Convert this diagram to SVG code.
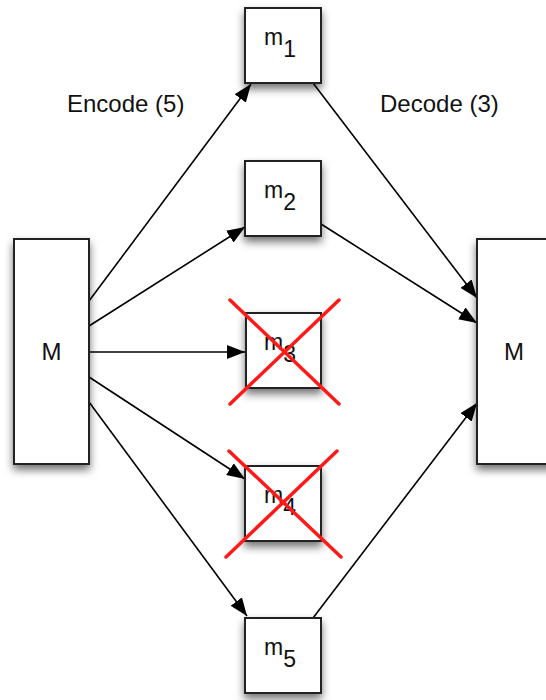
<svg xmlns="http://www.w3.org/2000/svg" width="546" height="700" viewBox="0 0 546 700">
<defs>
<filter id="sh" x="-30%" y="-30%" width="160%" height="170%">
<feDropShadow dx="0" dy="5" stdDeviation="4" flood-color="#000" flood-opacity="0.55"/>
</filter>
<marker id="ah" markerUnits="userSpaceOnUse" markerWidth="20" markerHeight="14" refX="18" refY="7" orient="auto">
<path d="M0,0 L18,7 L0,14 Z" fill="#000"/>
</marker>
<style>
.box{fill:#fff;stroke:#222;stroke-width:2;filter:url(#sh)}
.lbl{font-family:"Liberation Sans",Arial,sans-serif;font-size:24px;fill:#111}
.m{font-size:23px}
.sub{font-size:23px}
.edge{stroke:#000;stroke-width:1.6;fill:none;marker-end:url(#ah)}
.x{stroke:#ff1a1a;stroke-width:3.5;stroke-linecap:round}
</style>
</defs>
<rect width="546" height="700" fill="#fff"/>
<g id="connectors">
<line class="edge" x1="89" y1="301" x2="251" y2="84"/>
<line class="edge" x1="89" y1="326" x2="245" y2="227"/>
<line class="edge" x1="89" y1="352" x2="245" y2="352"/>
<line class="edge" x1="89" y1="377" x2="245" y2="479"/>
<line class="edge" x1="89" y1="402" x2="247" y2="616"/>
<line class="edge" x1="313" y1="83" x2="477" y2="298"/>
<line class="edge" x1="321" y1="224" x2="477" y2="323"/>
<line class="edge" x1="313" y1="618" x2="477" y2="403"/>
</g>
<g id="M-left">
<rect class="box" x="14" y="239" width="75" height="225"/>
<text class="lbl" x="51.5" y="360" text-anchor="middle">M</text>
</g>
<g id="M-right">
<rect class="box" x="477" y="239" width="78" height="225"/>
<text class="lbl" x="514" y="360" text-anchor="middle">M</text>
</g>
<g id="m1">
<rect class="box" x="245" y="8" width="76" height="75"/>
<text class="lbl m" x="264" y="45">m<tspan class="sub" dy="12">1</tspan></text>
</g>
<g id="m2">
<rect class="box" x="245" y="161" width="76" height="75"/>
<text class="lbl m" x="264" y="198">m<tspan class="sub" dy="12">2</tspan></text>
</g>
<g id="m3">
<rect class="box" x="246" y="313" width="75" height="75"/>
<text class="lbl m" x="264" y="350">m<tspan class="sub" dy="12">3</tspan></text>
<line class="x" x1="230" y1="300" x2="339" y2="404"/>
<line class="x" x1="339" y1="300" x2="230" y2="404"/>
</g>
<g id="m4">
<rect class="box" x="245" y="466" width="76" height="75"/>
<text class="lbl m" x="264" y="503">m<tspan class="sub" dy="12">4</tspan></text>
<line class="x" x1="229" y1="451" x2="341" y2="557"/>
<line class="x" x1="337" y1="451" x2="226" y2="557"/>
</g>
<g id="m5">
<rect class="box" x="245" y="618" width="76" height="75"/>
<text class="lbl m" x="264" y="655">m<tspan class="sub" dy="12">5</tspan></text>
</g>
<g id="labels">
<text class="lbl" x="67" y="112">Encode (5)</text>
<text class="lbl" x="380" y="112">Decode (3)</text>
</g>
</svg>
